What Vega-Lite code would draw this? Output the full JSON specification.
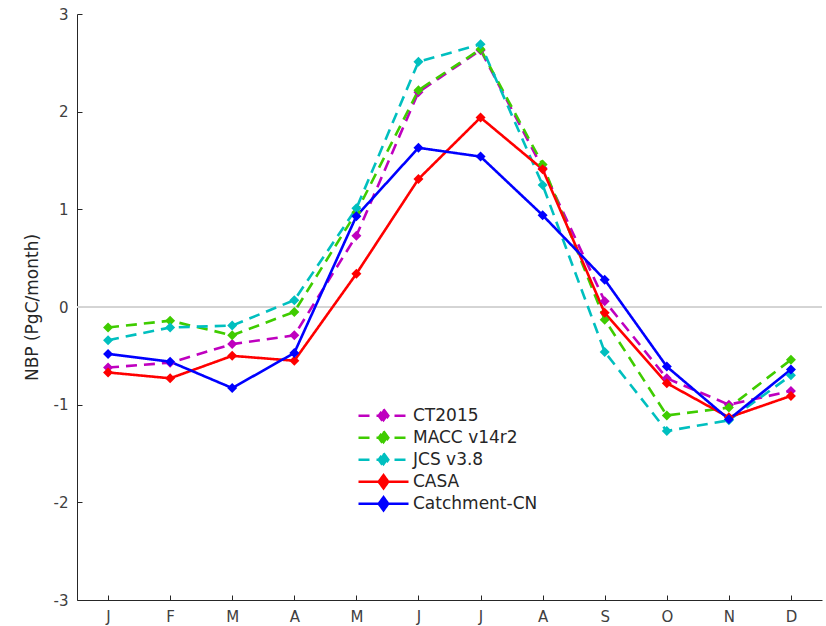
{
  "$schema": "https://vega.github.io/schema/vega-lite/v6.json",
  "width": 745,
  "height": 586,
  "autosize": {"type": "none"},
  "padding": {"left": 77, "top": 14, "right": 4, "bottom": 26},
  "background": "white",
  "config": {
    "view": {"stroke": null},
    "font": "DejaVu Sans",
    "axis": {"grid": false, "domainColor": "#262626", "tickColor": "#262626", "labelColor": "#404040", "titleColor": "#262626", "labelFont": "DejaVu Sans", "titleFont": "DejaVu Sans"}
  },
  "data": {
    "values": [
      {"series": "CT2015", "month": "Jan", "nbp": -0.62},
      {"series": "CT2015", "month": "Feb", "nbp": -0.57},
      {"series": "CT2015", "month": "Mar", "nbp": -0.38},
      {"series": "CT2015", "month": "Apr", "nbp": -0.29},
      {"series": "CT2015", "month": "May", "nbp": 0.73},
      {"series": "CT2015", "month": "Jun", "nbp": 2.2},
      {"series": "CT2015", "month": "Jul", "nbp": 2.63},
      {"series": "CT2015", "month": "Aug", "nbp": 1.42},
      {"series": "CT2015", "month": "Sep", "nbp": 0.06},
      {"series": "CT2015", "month": "Oct", "nbp": -0.73},
      {"series": "CT2015", "month": "Nov", "nbp": -1.0},
      {"series": "CT2015", "month": "Dec", "nbp": -0.86},
      {"series": "MACC v14r2", "month": "Jan", "nbp": -0.21},
      {"series": "MACC v14r2", "month": "Feb", "nbp": -0.14},
      {"series": "MACC v14r2", "month": "Mar", "nbp": -0.29},
      {"series": "MACC v14r2", "month": "Apr", "nbp": -0.05},
      {"series": "MACC v14r2", "month": "May", "nbp": 0.97},
      {"series": "MACC v14r2", "month": "Jun", "nbp": 2.22},
      {"series": "MACC v14r2", "month": "Jul", "nbp": 2.64},
      {"series": "MACC v14r2", "month": "Aug", "nbp": 1.46},
      {"series": "MACC v14r2", "month": "Sep", "nbp": -0.13},
      {"series": "MACC v14r2", "month": "Oct", "nbp": -1.11},
      {"series": "MACC v14r2", "month": "Nov", "nbp": -1.03},
      {"series": "MACC v14r2", "month": "Dec", "nbp": -0.54},
      {"series": "JCS v3.8", "month": "Jan", "nbp": -0.34},
      {"series": "JCS v3.8", "month": "Feb", "nbp": -0.21},
      {"series": "JCS v3.8", "month": "Mar", "nbp": -0.19},
      {"series": "JCS v3.8", "month": "Apr", "nbp": 0.07},
      {"series": "JCS v3.8", "month": "May", "nbp": 1.01},
      {"series": "JCS v3.8", "month": "Jun", "nbp": 2.51},
      {"series": "JCS v3.8", "month": "Jul", "nbp": 2.69},
      {"series": "JCS v3.8", "month": "Aug", "nbp": 1.25},
      {"series": "JCS v3.8", "month": "Sep", "nbp": -0.46},
      {"series": "JCS v3.8", "month": "Oct", "nbp": -1.27},
      {"series": "JCS v3.8", "month": "Nov", "nbp": -1.16},
      {"series": "JCS v3.8", "month": "Dec", "nbp": -0.7},
      {"series": "CASA", "month": "Jan", "nbp": -0.67},
      {"series": "CASA", "month": "Feb", "nbp": -0.73},
      {"series": "CASA", "month": "Mar", "nbp": -0.5},
      {"series": "CASA", "month": "Apr", "nbp": -0.55},
      {"series": "CASA", "month": "May", "nbp": 0.34},
      {"series": "CASA", "month": "Jun", "nbp": 1.31},
      {"series": "CASA", "month": "Jul", "nbp": 1.94},
      {"series": "CASA", "month": "Aug", "nbp": 1.41},
      {"series": "CASA", "month": "Sep", "nbp": -0.06},
      {"series": "CASA", "month": "Oct", "nbp": -0.78},
      {"series": "CASA", "month": "Nov", "nbp": -1.13},
      {"series": "CASA", "month": "Dec", "nbp": -0.91},
      {"series": "Catchment-CN", "month": "Jan", "nbp": -0.48},
      {"series": "Catchment-CN", "month": "Feb", "nbp": -0.56},
      {"series": "Catchment-CN", "month": "Mar", "nbp": -0.83},
      {"series": "Catchment-CN", "month": "Apr", "nbp": -0.47},
      {"series": "Catchment-CN", "month": "May", "nbp": 0.93},
      {"series": "Catchment-CN", "month": "Jun", "nbp": 1.63},
      {"series": "Catchment-CN", "month": "Jul", "nbp": 1.54},
      {"series": "Catchment-CN", "month": "Aug", "nbp": 0.94},
      {"series": "Catchment-CN", "month": "Sep", "nbp": 0.28},
      {"series": "Catchment-CN", "month": "Oct", "nbp": -0.61},
      {"series": "Catchment-CN", "month": "Nov", "nbp": -1.15},
      {"series": "Catchment-CN", "month": "Dec", "nbp": -0.64}
    ]
  },
  "encoding": {
    "x": {
      "field": "month", "type": "ordinal",
      "sort": ["Jan","Feb","Mar","Apr","May","Jun","Jul","Aug","Sep","Oct","Nov","Dec"],
      "scale": {"type": "point", "padding": 0.5},
      "axis": {"title": null, "labelAngle": 0, "labelExpr": "substring(datum.label,0,1)", "labelFontSize": 15, "tickSize": -5, "labelPadding": 14, "domainWidth": 1}
    },
    "y": {
      "field": "nbp", "type": "quantitative",
      "scale": {"domain": [-3, 3], "nice": false, "zero": false},
      "axis": {"title": "NBP (PgC/month)", "values": [-3,-2,-1,0,1,2,3], "labelExpr": "datum.value < 0 ? '-' + abs(datum.value) : '' + datum.value", "labelFontSize": 15, "titleFontSize": 17, "titleFontWeight": "normal", "tickSize": -5, "labelPadding": 14, "titlePadding": 12}
    }
  },
  "layer": [
    {
      "mark": {"type": "rule", "color": "#d4d4d4", "strokeWidth": 1},
      "encoding": {"y": {"datum": 0}, "x": {"value": 0}, "x2": {"value": 745}}
    },
    {
      "mark": {"type": "line", "strokeWidth": 2.6},
      "encoding": {
        "color": {
          "field": "series", "type": "nominal",
          "scale": {"domain": ["CT2015","MACC v14r2","JCS v3.8","CASA","Catchment-CN"], "range": ["#bf00bf","#3fcc00","#00bfbf","#ff0000","#0000ff"]},
          "legend": {
            "title": null, "orient": "none", "legendX": 280, "legendY": 391, "padding": 0,
            "symbolType": "M-1,0H1M0,-0.26L0.19,0L0,0.26L-0.19,0Z",
            "symbolSize": 2500, "symbolStrokeWidth": 2.6, "clipHeight": 21.5, "rowPadding": 0,
            "labelFontSize": 17, "labelFont": "DejaVu Sans", "labelColor": "#262626", "labelOffset": 3,
            "encode": {"symbols": {"update": {
              "fill": {"scale": "color", "field": "value"},
              "fillOpacity": {"value": 1},
              "strokeDash": {"signal": "datum.value == 'CASA' || datum.value == 'Catchment-CN' ? [1,0] : [10,10]"}
            }}}
          }
        },
        "strokeDash": {
          "field": "series", "type": "nominal",
          "scale": {"domain": ["CT2015","MACC v14r2","JCS v3.8","CASA","Catchment-CN"], "range": [[11,7],[11,7],[11,7],[1,0],[1,0]]}
        }
      }
    },
    {
      "mark": {"type": "point", "shape": "diamond", "filled": true, "size": 100, "opacity": 1},
      "encoding": {
        "color": {"field": "series", "type": "nominal", "legend": null}
      }
    }
  ]
}
